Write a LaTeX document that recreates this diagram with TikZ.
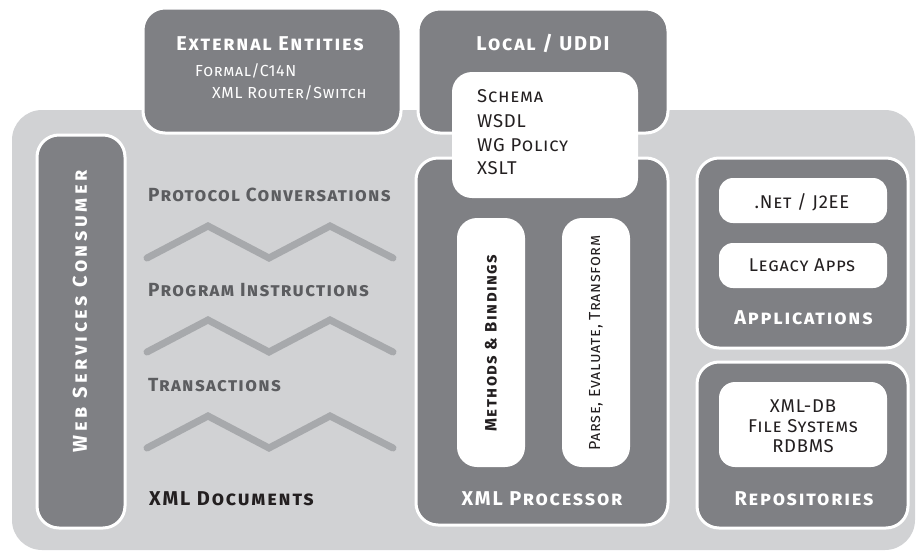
\documentclass[tikz,border=0pt]{standalone}
\usepackage{fontspec}
\setmainfont{Fira Sans}
\definecolor{darkbox}{HTML}{7F8084}
\definecolor{panel}{HTML}{D1D2D4}
\definecolor{zig}{HTML}{A7A9AC}
\definecolor{labelgray}{HTML}{5C5D60}
\definecolor{ink}{HTML}{231F20}
\tikzset{
  box/.style={draw=white, line width=3pt, fill=darkbox, rounded corners=22pt, inner sep=0pt},
  wbox/.style={draw=none, fill=white, rounded corners=#1, inner sep=0pt},
  wbox/.default=20pt,
  ttl/.style={font=\fontsize{20}{24}\bfseries\scshape\selectfont\addfontfeature{LetterSpace=9}, inner sep=0pt},
  lbl/.style={font=\fontsize{19}{23}\bfseries\scshape\selectfont\addfontfeature{LetterSpace=7}, inner sep=0pt},
  txt/.style={font=\fontsize{16}{20}\scshape\selectfont\addfontfeature{LetterSpace=4}, inner sep=0pt},
  btxt/.style={font=\fontsize{18.5}{22}\scshape\selectfont\addfontfeature{LetterSpace=4}, inner sep=0pt},
  zigline/.style={draw=zig, line width=7pt, line cap=round, line join=miter},
}
\begin{document}
\begin{tikzpicture}[x=1pt,y=-1pt]
\useasboundingbox (0,0) rectangle (922,552);
% background panel
\node[fill=panel, rounded corners=30pt, minimum width=903pt, minimum height=440pt, inner sep=0pt] (panelbg) at (463.5,330) {};
% top boxes
\node[box, minimum width=258pt, minimum height=125pt] (ext) at (272,70.5) {};
\node[box, minimum width=250pt, minimum height=124pt] (local) at (543,71) {};
% XML processor
\node[box, minimum width=252pt, minimum height=367pt] (proc) at (542,341.5) {};
\node[wbox, minimum width=186pt, minimum height=126pt] (schema) at (545,135) {};
\node[wbox, minimum width=68pt, minimum height=249pt] (methods) at (491,342.5) {};
\node[wbox, minimum width=68pt, minimum height=249pt] (parse) at (596,342.5) {};
% applications / repositories
\node[box, minimum width=211pt, minimum height=190pt] (apps) at (802.5,253) {};
\node[wbox=14pt, minimum width=168pt, minimum height=45pt] (net) at (803,200.5) {};
\node[wbox=14pt, minimum width=168pt, minimum height=45pt] (legacy) at (803,265.5) {};
\node[box, minimum width=211pt, minimum height=166pt] (repo) at (802.5,445) {};
\node[wbox=16pt, minimum width=168pt, minimum height=85pt] (repoin) at (803,424.5) {};
% web services consumer
\node[box, minimum width=88pt, minimum height=393pt] (wsc) at (81,331.5) {};

% texts
\node[ttl, text=white, anchor=base] (extt) at (270,50) {External Entities};
\node[txt, text=white, anchor=base west] (ext1) at (195,76) {Formal/C14N};
\node[txt, text=white, anchor=base west] (ext2) at (212,98) {XML Router/Switch};
\node[ttl, text=white, anchor=base] (localt) at (543,50) {Local / UDDI};
\node[btxt, text=ink, anchor=base west] (s1) at (477,102) {Schema};
\node[btxt, text=ink, anchor=base west] (s2) at (477,127) {WSDL};
\node[btxt, text=ink, anchor=base west] (s3) at (477,151) {WG Policy};
\node[btxt, text=ink, anchor=base west] (s4) at (477,174) {XSLT};
\node[text=ink, font=\fontsize{16.5}{20}\bfseries\scshape\selectfont\addfontfeature{LetterSpace=9}, inner sep=0pt, rotate=90] (mt) at (491,343) {Methods \& Bindings};
\node[txt, text=ink, rotate=90] (pt) at (596,343) {Parse, Evaluate, Transform};
\node[ttl, text=white, anchor=base] (proct) at (542,505) {XML Processor};
\node[btxt, text=ink, anchor=base] (nett) at (802,208) {.Net / J2EE};
\node[btxt, text=ink, anchor=base] (legt) at (802,271) {Legacy Apps};
\node[ttl, text=white, anchor=base] (appt) at (803.5,324) {Applications};
\node[btxt, text=ink, anchor=base] (r1) at (803,412) {XML-DB};
\node[btxt, text=ink, anchor=base] (r2) at (803,432) {File Systems};
\node[btxt, text=ink, anchor=base] (r3) at (803,452) {RDBMS};
\node[ttl, text=white, anchor=base] (repot) at (804,505) {Repositories};
\node[text=white, font=\fontsize{20}{24}\bfseries\scshape\selectfont\addfontfeature{LetterSpace=18}, inner sep=0pt, rotate=90] (wsct) at (80,311) {Web Services Consumer};
% left labels
\node[lbl, text=labelgray, anchor=base west] (l1) at (148,201) {Protocol Conversations};
\node[lbl, text=labelgray, anchor=base west] (l2) at (148,296) {Program Instructions};
\node[lbl, text=labelgray, anchor=base west] (l3) at (148,391) {Transactions};
\node[ttl, text=ink, anchor=base west] (l4) at (149,505) {XML Documents};
% zigzags
\draw[zigline] (147,258) -- (208,226) -- (269,258) -- (330,226) -- (393,258);
\draw[zigline] (147,352) -- (208,320) -- (269,352) -- (330,320) -- (393,352);
\draw[zigline] (147,448) -- (208,416) -- (269,448) -- (330,416) -- (393,448);
\end{tikzpicture}
\end{document}
